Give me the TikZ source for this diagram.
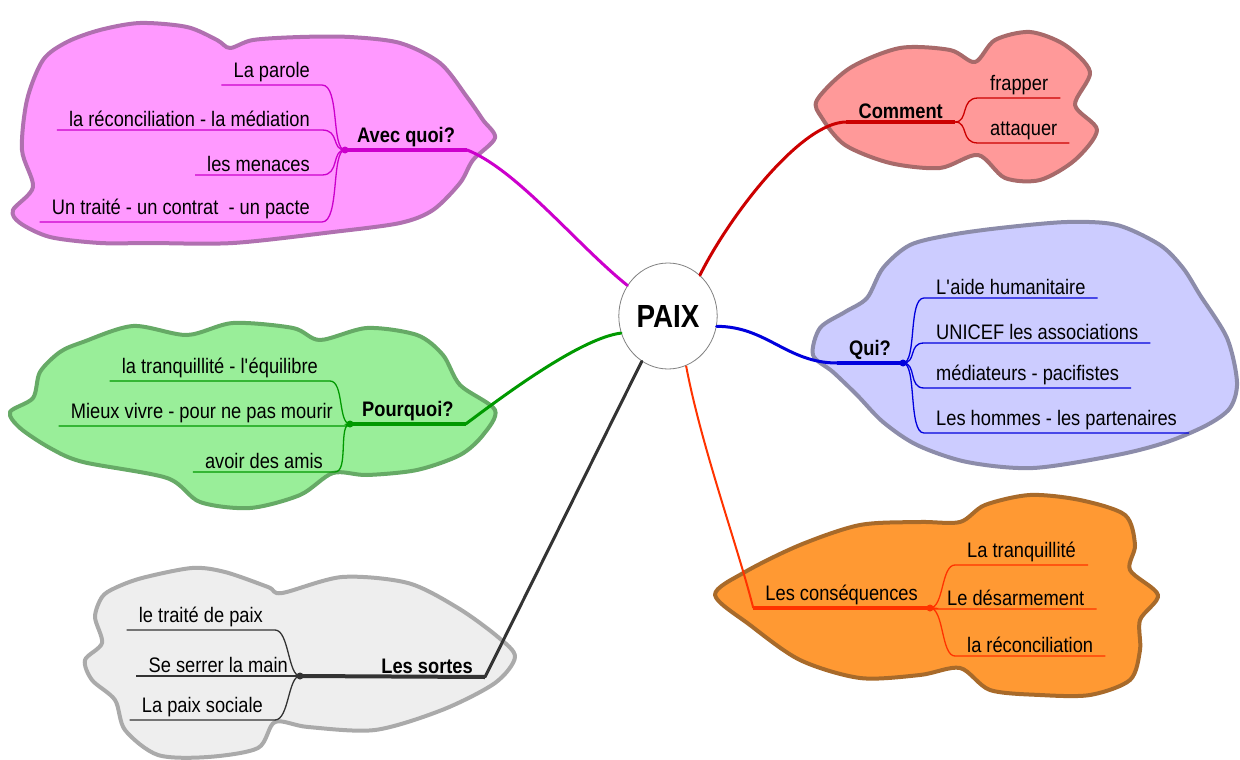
\documentclass[tikz,border=0pt]{standalone}
\usepackage{fontspec}
\setmainfont{Liberation Sans}[FakeStretch=0.87]
\usepackage{tikz}
\usetikzlibrary{shapes.geometric}
\definecolor{avec_fill}{HTML}{FF99FF}
\definecolor{avec_edge}{HTML}{B070B0}
\definecolor{avec_line}{HTML}{CC00CC}
\definecolor{comment_fill}{HTML}{FF9999}
\definecolor{comment_edge}{HTML}{A86A6A}
\definecolor{comment_line}{HTML}{CC0000}
\definecolor{pourquoi_fill}{HTML}{99EE99}
\definecolor{pourquoi_edge}{HTML}{66AA66}
\definecolor{pourquoi_line}{HTML}{009900}
\definecolor{qui_fill}{HTML}{CCCCFF}
\definecolor{qui_edge}{HTML}{8C8CAA}
\definecolor{qui_line}{HTML}{0000DD}
\definecolor{sortes_fill}{HTML}{EEEEEE}
\definecolor{sortes_edge}{HTML}{AAAAAA}
\definecolor{sortes_line}{HTML}{333333}
\definecolor{conseq_fill}{HTML}{FF9933}
\definecolor{conseq_edge}{HTML}{A86A2A}
\definecolor{conseq_line}{HTML}{FF3300}

\begin{document}
\begin{tikzpicture}[x=1pt, y=-1pt]
  \tikzstyle{cloud} = [line width=4pt, line join=round];
  \tikzstyle{leaf} = [inner xsep=12pt, inner ysep=3pt, font=\fontsize{21}{24}\selectfont];
  \tikzstyle{topic} = [leaf, font=\fontsize{21}{24}\selectfont\bfseries];
  \tikzstyle{twig} = [line width=1.3pt];
  \tikzstyle{bough} = [line width=4pt];
  \tikzstyle{link} = [line width=3pt, line cap=round];
  \useasboundingbox (0,0) rectangle (1240,760);

  % clouds
  \draw[cloud, draw=avec_edge, fill=avec_fill] plot[smooth cycle] coordinates {(13,210) (33,187) (22,150) (27,100) (43,60) (67,42) (100,30) (140,23) (187,27) (217,40) (230,48) (253,40) (300,37) (350,37) (400,43) (440,63) (467,97) (483,120) (495,138) (473,160) (460,183) (433,210) (400,223) (333,232) (233,243) (150,243) (100,243) (50,237) (20,223)};
  \draw[cloud, draw=comment_edge, fill=comment_fill] plot[smooth cycle] coordinates {(817,100) (850,68) (900,48) (950,50) (975,62) (995,40) (1030,32) (1065,45) (1090,72) (1075,105) (1097,130) (1075,160) (1040,180) (1005,178) (978,155) (940,168) (890,163) (845,145) (822,118)};
  \draw[cloud, draw=pourquoi_edge, fill=pourquoi_fill] plot[smooth cycle] coordinates {(10,412) (33,398) (40,372) (60,352) (83,342) (133,326) (187,335) (233,323) (293,328) (320,340) (367,328) (417,335) (443,355) (460,385) (495,410) (483,435) (460,455) (417,470) (367,475) (333,473) (300,495) (250,508) (200,502) (167,478) (83,462) (50,448) (20,428)};
  \draw[cloud, draw=qui_edge, fill=qui_fill] plot[smooth cycle] coordinates {(813,355) (820,328) (845,312) (867,298) (883,268) (910,245) (950,235) (1000,228) (1067,222) (1117,225) (1160,245) (1183,268) (1200,295) (1227,338) (1237,382) (1230,408) (1207,425) (1167,442) (1117,455) (1033,468) (967,462) (917,445) (883,422) (857,395) (833,372)};
  \draw[cloud, draw=sortes_edge, fill=sortes_fill] plot[smooth cycle] coordinates {(85,660) (102,643) (95,617) (102,597) (115,588) (142,578) (192,568) (225,572) (268,587) (282,593) (342,577) (408,583) (458,608) (498,637) (515,657) (495,683) (442,710) (375,730) (308,727) (275,722) (258,748) (208,757) (158,755) (125,730) (115,700) (92,680)};
  \draw[cloud, draw=conseq_edge, fill=conseq_fill] plot[smooth cycle] coordinates {(715,595) (745,572) (800,545) (860,525) (920,522) (960,522) (985,505) (1030,495) (1080,500) (1125,515) (1135,545) (1130,570) (1158,595) (1140,620) (1140,650) (1130,680) (1090,695) (1040,695) (990,690) (960,668) (920,675) (860,678) (800,660) (750,625)};

  % centre
  \node[ellipse, draw=gray, fill=white, thick, minimum width=92pt, minimum height=106pt, font=\fontsize{32}{32}\selectfont\bfseries] (paix) at (668,316) {PAIX};

  % Avec quoi?
  \coordinate (avec_j) at (345,150);
  \node[topic, anchor=south west] (avec) at (avec_j) {Avec quoi?};
  \draw[avec_line, bough] (avec_j) -- (avec.south east);
  \foreach \n/\l/\y in {avec_a/{La parole}/85, avec_b/{la réconciliation - la médiation}/130, avec_c/{les menaces}/175, avec_d/{Un traité - un contrat\ \ - un pacte}/222}
  {
  \node[leaf, anchor=south east] (\n) at (322,\y) {\l};
  \draw[avec_line, twig] (\n.south west) -- (\n.south east) .. controls +(18,0) and +(-14,0) .. (avec_j);
  }
  \fill[avec_line] (avec_j) circle (3.5);
  \draw[avec_line, link] (paix.143) .. controls +(-50,-40) and +(50,20) .. (avec.south east);

  % Comment
  \coordinate (comment_j) at (955,122);
  \node[topic, anchor=south east] (comment) at (comment_j) {Comment};
  \draw[comment_line, bough] (comment.south west) -- (comment_j);
  \foreach \n/\l/\y in {comment_a/{frapper}/98, comment_b/{attaquer}/143}
  {
  \node[leaf, anchor=south west] (\n) at (978,\y) {\l};
  \draw[comment_line, twig] (comment_j) .. controls +(14,0) and +(-18,0) .. (\n.south west) -- (\n.south east);
  }
  \draw[comment_line, link] (paix.52) .. controls +(30,-60) and +(-45,0) .. (comment.south west);

  % Pourquoi?
  \coordinate (pourquoi_j) at (350,424);
  \node[topic, anchor=south west] (pourquoi) at (pourquoi_j) {Pourquoi?};
  \draw[pourquoi_line, bough] (pourquoi_j) -- (pourquoi.south east);
  \foreach \n/\l/\x/\y in {pourquoi_a/{la tranquillité - l\textquotesingle équilibre}/330/381, pourquoi_b/{Mieux vivre - pour ne pas mourir}/345/426, pourquoi_c/{avoir des amis}/335/472}
  {
  \node[leaf, anchor=south east] (\n) at (\x,\y) {\l};
  \draw[pourquoi_line, twig] (\n.south west) -- (\n.south east) .. controls +(14,0) and +(-12,0) .. (pourquoi_j);
  }
  \fill[pourquoi_line] (pourquoi_j) circle (3.5);
  \draw[pourquoi_line, link] (paix.200) .. controls +(-40,5) and +(40,-30) .. (pourquoi.south east);

  % Qui?
  \coordinate (qui_j) at (903,363);
  \node[topic, anchor=south east] (qui) at (qui_j) {Qui?};
  \draw[qui_line, bough] (qui.south west) -- (qui_j);
  \foreach \n/\l/\y in {qui_a/{L\textquotesingle aide humanitaire}/298, qui_b/{UNICEF les associations}/343, qui_c/{médiateurs - pacifistes}/388, qui_d/{Les hommes - les partenaires}/433}
  {
  \node[leaf, anchor=south west] (\n) at (924,\y) {\l};
  \draw[qui_line, twig] (qui_j) .. controls +(14,0) and +(-16,0) .. (\n.south west) -- (\n.south east);
  }
  \fill[qui_line] (qui_j) circle (3.5);
  \draw[qui_line, link] (paix.-12) .. controls +(50,0) and +(-50,0) .. (qui.south west);

  % Les sortes
  \coordinate (sortes_j) at (300,676);
  \node[topic, anchor=south east] (sortes) at (485,677) {Les sortes};
  \draw[sortes_line, bough] (sortes_j) -- (sortes.south east);
  \foreach \n/\l/\x/\y in {sortes_a/{le traité de paix}/275/630, sortes_b/{Se serrer la main}/300/676, sortes_c/{La paix sociale}/275/720}
  {
  \node[leaf, anchor=south east] (\n) at (\x,\y) {\l};
  \draw[sortes_line, twig] (\n.south west) -- (\n.south east) .. controls +(14,0) and +(-12,0) .. (sortes_j);
  }
  \fill[sortes_line] (sortes_j) circle (3.5);
  \draw[sortes_line, link] (paix.240) .. controls +(-20,40) and +(25,-50) .. (sortes.south east);

  % Les consequences
  \coordinate (conseq_j) at (930,608);
  \node[leaf, anchor=south east] (conseq) at (conseq_j) {Les conséquences};
  \draw[conseq_line, bough] (conseq.south west) -- (conseq_j);
  \foreach \n/\l/\x/\y in {conseq_a/{La tranquillité}/955/565, conseq_b/{Le désarmement}/935/609, conseq_c/{la réconciliation}/955/656}
  {
  \node[leaf, anchor=south west] (\n) at (\x,\y) {\l};
  \draw[conseq_line, twig] (conseq_j) .. controls +(14,0) and +(-14,0) .. (\n.south west) -- (\n.south east);
  }
  \fill[conseq_line] (conseq_j) circle (3.5);
  \draw[conseq_line, line width=2pt] (paix.290) .. controls +(15,80) and +(-15,-60) .. (conseq.south west);
\end{tikzpicture}
\end{document}
